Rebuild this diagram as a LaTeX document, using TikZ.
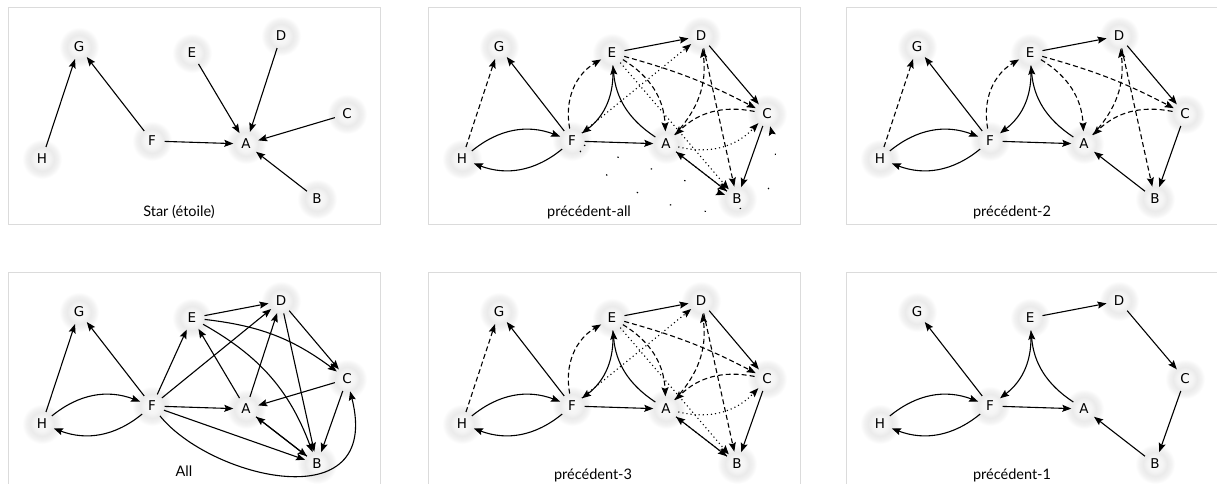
\documentclass[tikz,border=0pt]{standalone}
\usepackage{fontspec}
\setmainfont{Lato}
\newfontfamily\nodefont{DejaVu Sans}
\usetikzlibrary{arrows.meta}
\pgfdeclareradialshading{halo}{\pgfpointorigin}{color(0bp)=(black!2); color(9bp)=(black!4); color(15bp)=(black!8); color(20bp)=(black!5); color(25bp)=(white); color(50bp)=(white)}
\tikzset{
  vx/.style={circle, inner sep=0pt, minimum size=25pt, font=\nodefont\fontsize{13.5}{15}\selectfont},
  edge/.style={-{Stealth[length=9pt,width=7pt,inset=1.5pt]}, line width=1.1pt},
  dsh/.style={edge, dash pattern=on 5pt off 3pt},
  dtt/.style={edge, dash pattern=on 1.1pt off 3pt},
  ldt/.style={edge, dash pattern=on 1.4pt off 34pt},
  frame/.style={draw=black!14, line width=0.8pt},
  caption/.style={anchor=base, font=\fontsize{14.5}{16}\selectfont},
}
\newcommand\mkpanel[3]{%
\begin{scope}[shift={(#2,#3)}]
\draw[frame] (0,7) rectangle (372,224);
\foreach \px/\py in {34/159,71/47,144/141,184/53,238/144,273/36,339/114,309/199}{\shade[shading=halo] (\px,\py) circle (20);}
\node[vx] (#1H) at (34,159) {H};
\node[vx] (#1G) at (71,47) {G};
\node[vx] (#1F) at (144,141) {F};
\node[vx] (#1E) at (184,53) {E};
\node[vx] (#1A) at (238,144) {A};
\node[vx] (#1D) at (273,36) {D};
\node[vx] (#1C) at (339,114) {C};
\node[vx] (#1B) at (309,199) {B};
\end{scope}}
\newcommand\eprecone[1]{%
\draw[edge] (#1H) to[bend left=30] (#1F);
\draw[edge] (#1F) to[bend left=30] (#1H);
\draw[edge] (#1F) -- (#1G);
\draw[edge] (#1E) to[bend left=28] (#1F);
\draw[edge] (#1A) to[bend left=26] (#1E);
\draw[edge] (#1F) -- (#1A);
\draw[edge] (#1E) -- (#1D);
\draw[edge] (#1D) -- (#1C);
\draw[edge] (#1C) -- (#1B);
\draw[edge] (#1B) -- (#1A);}
\newcommand\eprectwo[1]{%
\draw[dsh] (#1H) -- (#1G);
\draw[dsh] (#1F) to[bend left=35] (#1E);
\draw[dsh] (#1E) to[bend left=28] (#1A);
\draw[dsh] (#1A) to[bend right=25] (#1D);
\draw[dsh] (#1E) to[bend left=6] (#1C);
\draw[dsh] (#1C) to[bend right=28] (#1A);
\draw[dsh] (#1D) -- (#1B);}
\newcommand\eprecthree[1]{%
\draw[dtt] (#1F) -- (#1D);
\draw[dtt] (#1E) -- (#1B);
\draw[dtt] (#1A) to[bend right=30] (#1C);
\draw[dtt] (#1A) -- (#1B);}
\begin{document}
\begin{tikzpicture}[x=1pt,y=-1pt]
\useasboundingbox (0,0) rectangle (1217,483);
\clip (0,0) rectangle (1217,483);
\fill[white] (0,0) rectangle (1217,483);
\mkpanel{a}{8}{0}
\mkpanel{b}{428}{0}
\mkpanel{c}{846}{0}
\mkpanel{d}{8}{265}
\mkpanel{e}{428}{265}
\mkpanel{f}{846}{265}
% captions
\node[caption] (acap) at (179,216) {Star (étoile)};
\node[caption] (bcap) at (589,216) {précédent-all};
\node[caption] (ccap) at (1012,216) {précédent-2};
\node[caption] (dcap) at (184,476) {All};
\node[caption] (ecap) at (593,479) {précédent-3};
\node[caption] (fcap) at (1012,479) {précédent-1};
% panel 1: star
\draw[edge] (aH) -- (aG);
\draw[edge] (aF) -- (aG);
\draw[edge] (aE) -- (aA);
\draw[edge] (aD) -- (aA);
\draw[edge] (aC) -- (aA);
\draw[edge] (aF) -- (aA);
\draw[edge] (aB) -- (aA);
% panel 2: precedent-all
\eprecone{b}\eprectwo{b}\eprecthree{b}
\draw[ldt] (bF) -- (bB);
\draw[ldt] (bF) .. controls +(58,72) and +(36,142) .. (bC);
% panel 3: precedent-2
\eprecone{c}\eprectwo{c}
% panel 4: all
\draw[edge] (dH) -- (dG);
\draw[edge] (dF) -- (dG);
\draw[edge] (dH) to[bend left=30] (dF);
\draw[edge] (dF) to[bend left=30] (dH);
\draw[edge] (dF) -- (dE);
\draw[edge] (dF) -- (dD);
\draw[edge] (dF) -- (dA);
\draw[edge] (dF) -- (dB);
\draw[edge] (dF) .. controls +(58,72) and +(36,142) .. (dC);
\draw[edge] (dE) -- (dD);
\draw[edge] (dE) to[bend left=15] (dC);
\draw[edge] (dE) to[bend left=20] (dB);
\draw[edge] (dA) -- (dE);
\draw[edge] (dA) -- (dD);
\draw[edge] (dA) -- (dB);
\draw[edge] (dB) -- (dA);
\draw[edge] (dD) -- (dC);
\draw[edge] (dD) -- (dB);
\draw[edge] (dC) -- (dA);
\draw[edge] (dC) -- (dB);
% panel 5: precedent-3
\eprecone{e}\eprectwo{e}\eprecthree{e}
% panel 6: precedent-1
\eprecone{f}
\end{tikzpicture}
\end{document}
